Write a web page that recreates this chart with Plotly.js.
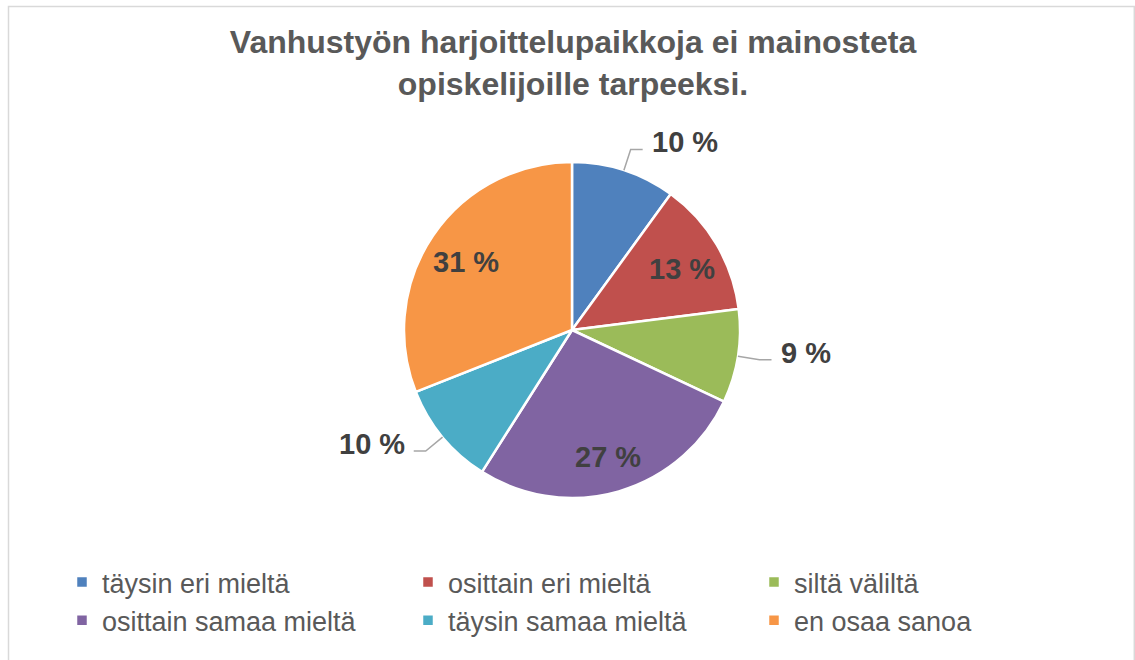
<!DOCTYPE html>
<html>
<head>
<meta charset="utf-8">
<script src="https://cdn.plot.ly/plotly-3.0.1.min.js"></script>
<style>
  html, body { margin: 0; padding: 0; background: #ffffff; }
  #chart { width: 1135px; height: 660px; }
</style>
</head>
<body>
<div id="chart"></div>
<script>
// ---- data ----
const categories = [
  "täysin eri mieltä",
  "osittain eri mieltä",
  "siltä väliltä",
  "osittain samaa mieltä",
  "täysin samaa mieltä",
  "en osaa sanoa"
];
const values = [10, 13, 9, 27, 10, 31];
const labelPlacement = ["outside", "inside", "outside", "inside", "outside", "inside"];
const colors = ["#4F81BD", "#C0504D", "#9BBB59", "#8064A2", "#4BACC6", "#F79646"];
const chartTitle = "Vanhustyön harjoittelupaikkoja ei mainosteta<br>opiskelijoille tarpeeksi.";

// ---- geometry (layout) ----
const W = 1135, H = 660;
const cx = 572, cy = 330, R = 168;
const FONT = '"Liberation Sans", Arial, sans-serif';

const px2x = p => p / W;
const py2y = p => 1 - p / H;

const total = values.reduce((a, b) => a + b, 0);
const annotations = [];
const shapes = [
  { type: "rect", xref: "paper", yref: "paper",
    x0: px2x(8.5), x1: px2x(1134.3), y0: py2y(700), y1: py2y(6.5),
    line: { color: "#D9D9D9", width: 1.5 }, fillcolor: "rgba(0,0,0,0)", layer: "below" }
];

let cum = 0;
values.forEach((v, i) => {
  const mid = (cum + v / 2) / total;
  cum += v;
  const th = 2 * Math.PI * mid;
  const dx = Math.sin(th), dy = -Math.cos(th);
  const text = "<b>" + Math.round(v / total * 100) + " %</b>";
  if (labelPlacement[i] === "inside") {
    const px = cx + 0.76 * R * dx, py = cy + 0.76 * R * dy + 4;
    annotations.push({ xref: "paper", yref: "paper", x: px2x(px), y: py2y(py),
      text, showarrow: false, xanchor: "center", yanchor: "middle",
      font: { family: FONT, size: 29, color: "#404040" } });
  } else {
    const ex = cx + R * dx, ey = cy + R * dy;
    const bx = cx + 1.13 * R * dx, by = cy + 1.13 * R * dy;
    const side = dx >= 0 ? 1 : -1;
    const hx = bx + side * 12;
    shapes.push({ type: "path", xref: "paper", yref: "paper",
      path: `M ${px2x(ex)} ${py2y(ey)} L ${px2x(bx)} ${py2y(by)} L ${px2x(hx)} ${py2y(by)}`,
      line: { color: "#A6A6A6", width: 1.5 } });
    annotations.push({ xref: "paper", yref: "paper", x: px2x(hx + side * 7), y: py2y(by - 7),
      text, showarrow: false, xanchor: side > 0 ? "left" : "right", yanchor: "middle",
      font: { family: FONT, size: 29, color: "#404040" } });
  }
});

const trace = {
  type: "pie",
  labels: categories,
  values: values,
  sort: false,
  direction: "clockwise",
  rotation: 0,
  textinfo: "none",
  hoverinfo: "label+percent",
  marker: { colors: colors, line: { color: "#FFFFFF", width: 2.5 } },
  domain: { x: [px2x(cx - R), px2x(cx + R)], y: [py2y(cy + R), py2y(cy - R)] }
};

const layout = {
  width: W, height: H,
  margin: { l: 0, r: 0, t: 0, b: 0, autoexpand: false },
  paper_bgcolor: "#FFFFFF",
  title: {
    text: chartTitle,
    x: px2x(573), xanchor: "center",
    y: py2y(53), yanchor: "top", yref: "container",
    font: { family: FONT, size: 32, color: "#595959", weight: "bold" }
  },
  showlegend: true,
  legend: {
    orientation: "h",
    x: px2x(62), xanchor: "left",
    y: py2y(558), yanchor: "top",
    entrywidth: 301, entrywidthmode: "pixels",
    itemwidth: 30,
    traceorder: "normal",
    font: { family: FONT, size: 27, color: "#595959" },
    bgcolor: "rgba(0,0,0,0)"
  },
  shapes: shapes,
  annotations: annotations
};

Plotly.newPlot("chart", [trace], layout, { displayModeBar: false, responsive: false });
</script>
</body>
</html>
